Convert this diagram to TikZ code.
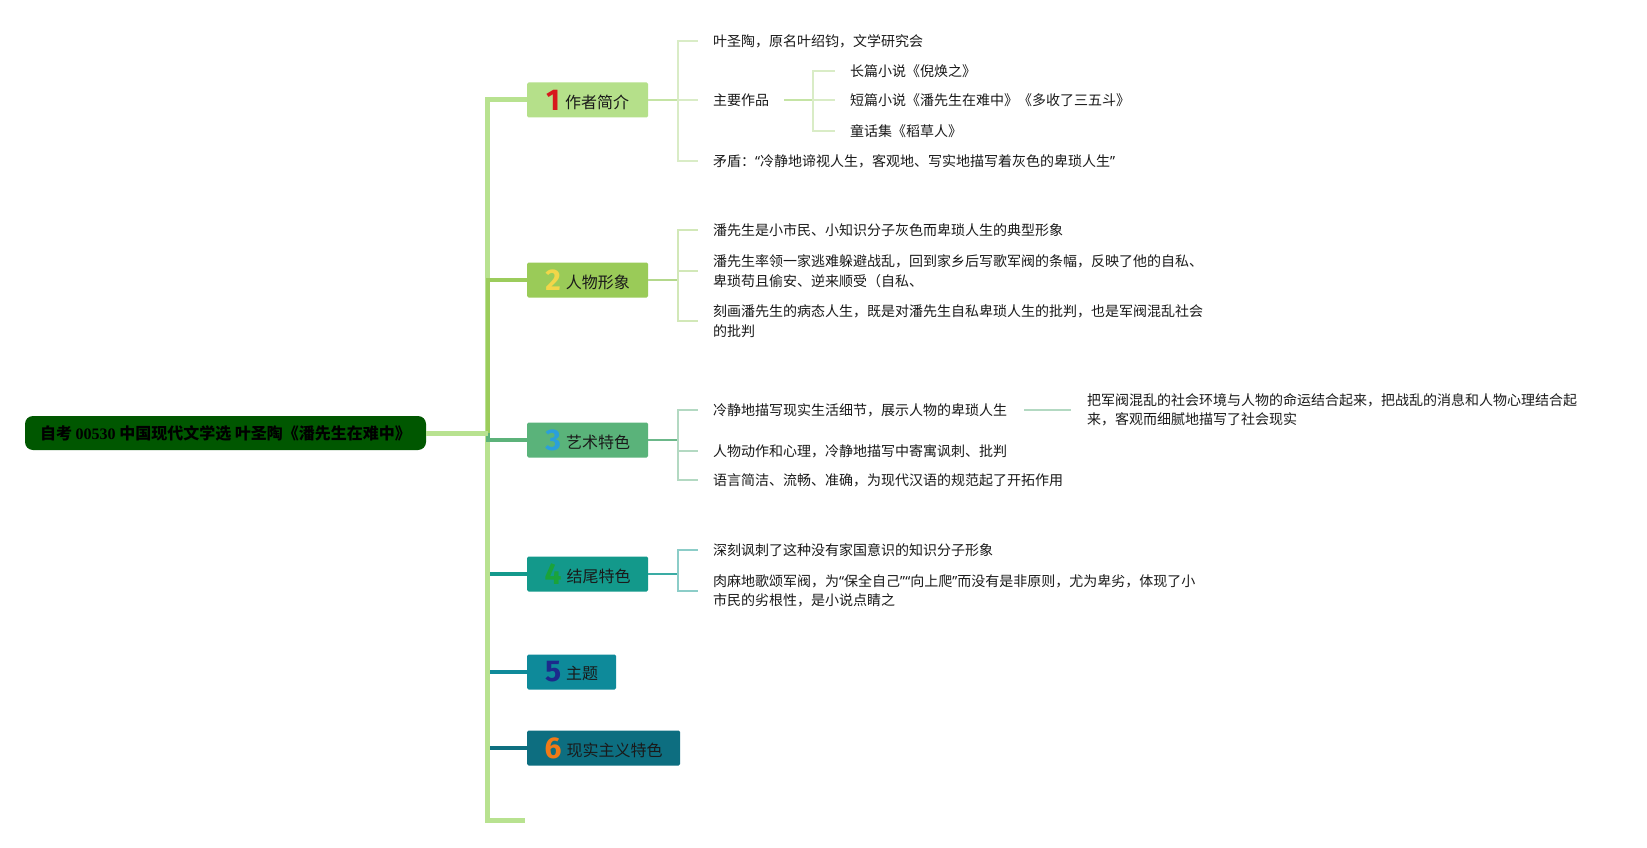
\documentclass[tikz,border=0pt]{standalone}
\usepackage{fontspec}
\setmainfont{Noto Sans CJK SC}
\newfontfamily\numfont{Fira Sans}
\newfontfamily\serifnum{Liberation Serif}
\newfontfamily\qfont{Noto Sans}
\newcommand\qtl{{\qfont “}}
\newcommand\qtr{{\qfont ”}}
\definecolor{trunk}{HTML}{B8E290}
\definecolor{rootfill}{HTML}{005700}
\definecolor{bx1}{HTML}{B5E08A}
\definecolor{bx2}{HTML}{9ACB58}
\definecolor{bx3}{HTML}{5AB37A}
\definecolor{bx4}{HTML}{13998B}
\definecolor{bx5}{HTML}{0E8A9A}
\definecolor{bx6}{HTML}{0D6E80}
\definecolor{ln2}{HTML}{9CCC5C}
\definecolor{ln3}{HTML}{5CB27A}
\definecolor{ln4}{HTML}{14998C}
\definecolor{ln5}{HTML}{0F8A9A}
\definecolor{ln6}{HTML}{0E6F80}
\definecolor{d1}{HTML}{D7191C}
\definecolor{d2}{HTML}{F2D649}
\definecolor{d3}{HTML}{2B9FDB}
\definecolor{d4}{HTML}{1AA33A}
\definecolor{d5}{HTML}{1C2A8C}
\definecolor{d6}{HTML}{F07A17}
\definecolor{cA}{HTML}{C5E4A5}
\definecolor{sA}{HTML}{D9ECC6}
\definecolor{cB}{HTML}{B4D88C}
\definecolor{sB}{HTML}{D2E8B8}
\definecolor{cC}{HTML}{6CB88A}
\definecolor{sC}{HTML}{B3D9C2}
\definecolor{cD}{HTML}{3AACA4}
\definecolor{sD}{HTML}{8CCDC8}
\definecolor{itemtext}{HTML}{1A1A1A}
\newcommand\dg[2]{{\numfont\bfseries\fontsize{30}{30}\selectfont\color{#1}#2}}
\newcommand\bt[1]{\raisebox{2pt}{#1}}
\tikzset{
  rootbox/.style={fill=rootfill, rounded corners=8pt, minimum width=401pt, minimum height=34pt, inner sep=0pt, font=\bfseries\fontsize{16}{18}\selectfont, text=black},
  box/.style={anchor=west, minimum height=35pt, inner sep=0pt, rounded corners=1.5pt, font=\fontsize{16}{18}\selectfont, text=itemtext},
  item/.style={anchor=west, inner sep=0pt, align=left, font=\fontsize{14}{19.5}\selectfont, text=itemtext},
  thick5/.style={line width=5pt},
  br/.style={line width=4pt},
  conn/.style={line width=2pt},
  sub/.style={line width=1.5pt},
}
\begin{document}
\begin{tikzpicture}[x=1pt,y=-1pt]
\useasboundingbox (0,0) rectangle (1647,848);
\fill[white] (0,0) rectangle (1647,848);

% root
\node[rootbox] (root) at (225.5,433) {自考 {\serifnum\bfseries 00530} 中国现代文学选 叶圣陶《潘先生在难中》};
\coordinate (J) at (487.5,433);
\coordinate (E) at (525,820);

% main boxes
\node[box, fill=bx1, minimum width=121pt] (b1) at (527,100) {\dg{d1}{1}\hspace{5pt}\bt{作者简介}};
\node[box, fill=bx2, minimum width=121pt] (b2) at (527,280) {\dg{d2}{2}\hspace{5pt}\bt{人物形象}};
\node[box, fill=bx3, minimum width=121pt] (b3) at (527,440) {\dg{d3}{3}\hspace{5pt}\bt{艺术特色}};
\node[box, fill=bx4, minimum width=121pt] (b4) at (527,574) {\dg{d4}{4}\hspace{5pt}\bt{结尾特色}};
\node[box, fill=bx5, minimum width=89pt] (b5) at (527,672) {\dg{d5}{5}\hspace{5pt}\bt{主题}};
\node[box, fill=bx6, minimum width=153pt] (b6) at (527,748) {\dg{d6}{6}\hspace{5pt}\bt{现实主义特色}};

% trunk and branches
\draw[br, ln4] (J) |- (b4.west);
\draw[br, ln5] (J) |- (b5.west);
\draw[br, ln6] (J) |- (b6.west);
\draw[thick5, trunk] (J) |- (E);
\draw[br, ln3] (J) |- (b3.west);
\draw[thick5, trunk] (J) |- (b1.west);
\draw[br, ln2] (J) |- (b2.west);
\draw[thick5, trunk] (root.east) -- (J);

% branch 1
\node[item] (a11) at (713,41) {叶圣陶，原名叶绍钧，文学研究会};
\node[item] (a12) at (713,100) {主要作品};
\node[item] (a13) at (713,161) {矛盾：\qtl 冷静地谛视人生，客观地、写实地描写着灰色的卑琐人生\qtr};
\node[item] (a121) at (850,71) {长篇小说《倪焕之》};
\node[item] (a122) at (850,100) {短篇小说《潘先生在难中》《多收了三五斗》};
\node[item] (a123) at (850,131) {童话集《稻草人》};
\coordinate (v1) at (678,100);
\coordinate (v12) at (813,100);
\draw[conn, cA] (b1.east) -- (v1);
\foreach \n in {a11,a12,a13} \draw[sub, sA] (v1) |- ([xshift=-15pt]\n.west);
\draw[conn, cA] ([xshift=15pt]a12.east) -- (v12);
\foreach \n in {a121,a122,a123} \draw[sub, sA] (v12) |- ([xshift=-15pt]\n.west);

% branch 2
\node[item] (a21) at (713,230) {潘先生是小市民、小知识分子灰色而卑琐人生的典型形象};
\node[item] (a22) at (713,271) {潘先生率领一家逃难躲避战乱，回到家乡后写歌军阀的条幅，反映了他的自私、\\卑琐苟且偷安、逆来顺受（自私、};
\node[item] (a23) at (713,321) {刻画潘先生的病态人生，既是对潘先生自私卑琐人生的批判，也是军阀混乱社会\\的批判};
\coordinate (v2) at (678,280);
\draw[conn, cB] (b2.east) -- (v2);
\foreach \n in {a21,a22,a23} \draw[sub, sB] (v2) |- ([xshift=-15pt]\n.west);

% branch 3
\node[item] (a31) at (713,410) {冷静地描写现实生活细节，展示人物的卑琐人生};
\node[item] (a32) at (713,451) {人物动作和心理，冷静地描写中寄寓讽刺、批判};
\node[item] (a33) at (713,480) {语言简洁、流畅、准确，为现代汉语的规范起了开拓作用};
\node[item] (c31) at (1087,410) {把军阀混乱的社会环境与人物的命运结合起来，把战乱的消息和人物心理结合起\\来，客观而细腻地描写了社会现实};
\coordinate (v3) at (678,440);
\draw[conn, cC] (b3.east) -- (v3);
\foreach \n in {a31,a32,a33} \draw[sub, sC] (v3) |- ([xshift=-15pt]\n.west);
\draw[sub, sC] ([xshift=17pt]a31.east) -- ([xshift=-16pt]c31.west);

% branch 4
\node[item] (a41) at (713,550) {深刻讽刺了这种没有家国意识的知识分子形象};
\node[item] (a42) at (713,591) {肉麻地歌颂军阀，为\qtl 保全自己\qtr\qtl 向上爬\qtr 而没有是非原则，尤为卑劣，体现了小\\市民的劣根性，是小说点睛之};
\coordinate (v4) at (678,574);
\draw[conn, cD] (b4.east) -- (v4);
\foreach \n in {a41,a42} \draw[sub, sD] (v4) |- ([xshift=-15pt]\n.west);
\end{tikzpicture}
\end{document}
